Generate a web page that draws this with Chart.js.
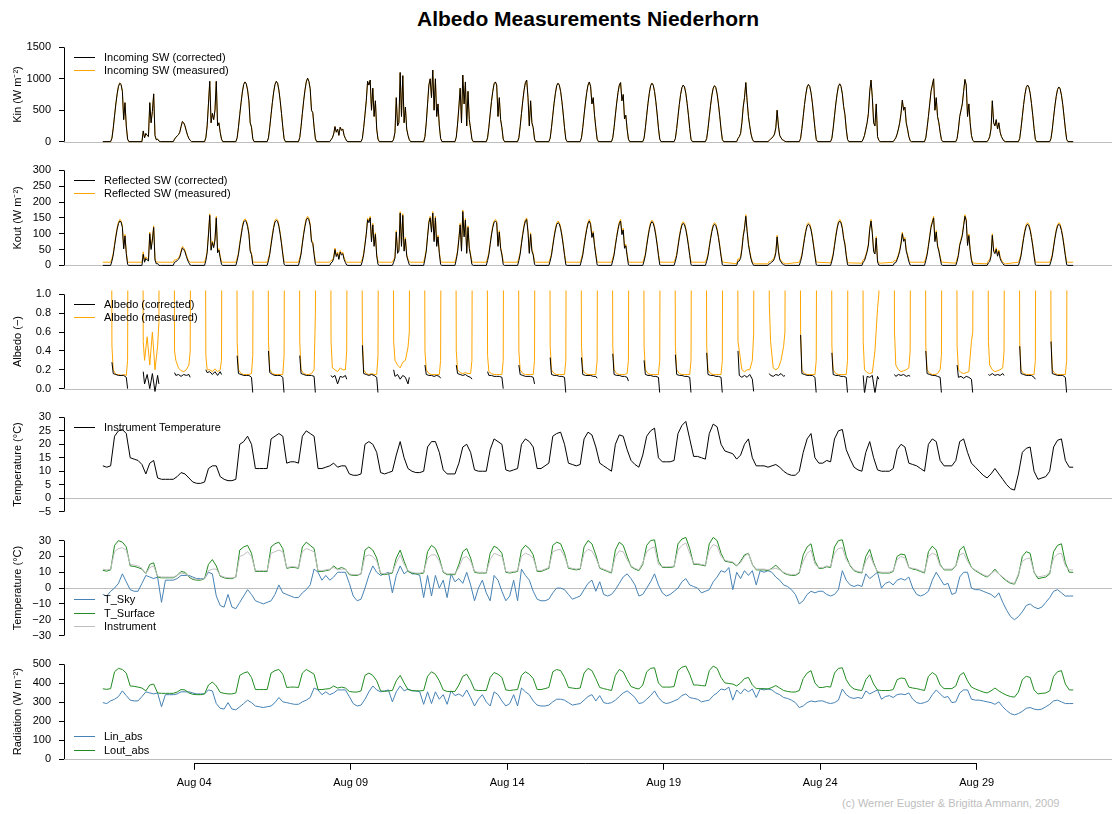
<!DOCTYPE html>
<html>
<head>
<meta charset="utf-8">
<title>Albedo Measurements Niederhorn</title>
<script src="https://cdn.jsdelivr.net/npm/chart.js@4.4.1/dist/chart.umd.min.js"></script>
<style>
  html, body { margin: 0; padding: 0; background: #fff; }
  body { position: relative; width: 1112px; height: 814px; overflow: hidden; font-family: "Liberation Sans", Arial, sans-serif; }
  canvas { position: absolute; left: 0; }
  #title { position: absolute; top: 7px; left: 588px; transform: translateX(-50%); font-size: 21px; font-weight: bold; white-space: nowrap; }
  #credit { position: absolute; top: 797px; left: 842px; font-size: 11px; color: #bebebe; white-space: nowrap; }
</style>
</head>
<body>
<div id="title">Albedo Measurements Niederhorn</div>
<div id="credit">(c) Werner Eugster &amp; Brigitta Ammann, 2009</div>
<script>
// time axis: days since 1 Aug 00:00 (UTC), 31 days of data
const DAYS = 31;
const xTickDays = [2.917, 7.917, 12.917, 17.917, 22.917, 27.917];
const xTickLabels = ['Aug 04', 'Aug 09', 'Aug 14', 'Aug 19', 'Aug 24', 'Aug 29'];

const kinTicks = [0, 500, 1000, 1500];
const koutTicks = [0, 50, 100, 150, 200, 250, 300];
const albTicks = [0, 0.2, 0.4, 0.6, 0.8, 1];
const instTicks = [-5, 0, 5, 10, 15, 20, 25, 30];
const tempTicks = [-30, -20, -10, 0, 10, 20, 30];
const radTicks = [0, 100, 200, 300, 400, 500];

// hour of day of each value in the daily shortwave rows
const swHours = [6, 7, 8, 9, 10, 11, 12, 13, 14, 15, 16, 17, 18, 19, 20];
// incoming SW, W m-2 (measured reads the same as corrected at this scale)
const kin = [
  [0,55,215,410,600,760,880,930,910,800,350,620,250,40,0],
  [0,170,60,130,100,80,620,300,480,760,100,30,40,10,0],
  [0,40,70,90,110,150,240,320,300,250,170,100,50,20,0],
  [0,60,250,600,960,300,450,350,500,960,250,300,150,40,0],
  [0,60,230,430,620,790,910,950,920,820,650,300,230,45,0],
  [0,60,230,430,620,790,910,960,930,820,650,450,230,45,0],
  [0,65,240,450,650,820,950,1010,960,840,500,460,230,45,0],
  [0,30,60,120,240,150,200,100,230,180,200,100,50,10,0],
  [0,50,220,430,650,960,900,980,500,850,400,650,200,40,0],
  [0,40,150,700,250,300,1100,400,1050,300,550,200,100,30,0],
  [0,80,300,600,900,1000,700,1140,500,1000,400,600,250,50,0],
  [0,70,280,550,850,300,1060,600,950,250,800,350,200,40,0],
  [0,60,230,440,640,800,920,950,900,400,700,350,220,40,0],
  [0,60,240,450,650,820,940,980,700,250,650,300,220,40,0],
  [0,55,220,420,610,770,890,930,900,800,640,440,220,40,0],
  [0,60,225,425,615,780,900,950,880,600,700,420,220,40,0],
  [0,60,225,425,615,780,900,940,650,750,360,420,200,40,0],
  [0,55,220,420,610,770,890,930,900,800,640,440,220,40,0],
  [0,50,210,400,590,750,860,900,870,770,610,420,210,35,0],
  [0,50,205,395,580,740,850,890,860,760,600,410,200,35,0],
  [0,50,80,130,300,550,700,940,650,400,250,120,40,5,0],
  [0,20,40,60,80,120,220,500,250,100,60,30,20,5,0],
  [0,50,210,400,590,750,870,910,880,780,620,420,210,35,0],
  [0,55,215,410,600,760,880,920,880,760,560,430,200,35,0],
  [0,40,100,200,300,450,800,980,700,300,250,600,80,20,0],
  [0,30,60,120,200,300,450,660,500,550,300,200,80,15,0],
  [0,60,220,400,600,800,900,1000,500,700,400,300,150,30,0],
  [0,50,200,400,500,600,800,990,900,400,600,300,100,20,0],
  [0,30,80,200,650,300,250,350,200,300,150,80,40,10,0],
  [0,50,210,400,590,750,860,900,870,770,610,420,210,35,0],
  [0,50,200,390,570,720,830,870,840,740,590,400,200,35,0]
];
const koutCorr = [
  [0,14,33,62,90,114,132,140,137,120,52,93,37,3,0],
  [0,35,10,22,17,14,100,50,80,120,17,5,6,0,0],
  [0,10,12,15,19,26,41,55,51,43,29,17,8,1,0],
  [0,15,40,96,158,48,72,56,80,150,40,48,24,3,0],
  [0,15,35,65,93,119,137,142,138,123,98,45,34,3,0],
  [0,15,35,65,93,119,137,142,139,123,98,68,34,3,0],
  [0,16,36,68,98,123,143,150,144,126,75,69,34,3,0],
  [0,8,11,22,50,28,37,19,42,33,37,19,9,1,0],
  [0,13,33,65,98,144,135,150,75,128,60,98,30,3,0],
  [0,10,23,105,38,45,165,60,158,45,83,30,15,2,0],
  [0,20,45,90,135,150,105,165,75,150,60,90,38,3,0],
  [0,18,42,83,128,45,170,90,143,38,120,53,30,3,0],
  [0,15,35,66,96,120,136,140,135,60,105,53,33,3,0],
  [0,15,36,68,98,123,140,145,105,38,98,45,33,3,0],
  [0,14,32,61,88,112,129,135,131,116,93,64,32,2,0],
  [0,15,33,62,89,113,132,140,129,88,103,62,32,2,0],
  [0,15,33,62,89,113,132,140,97,112,54,62,30,2,0],
  [0,14,32,62,89,113,131,138,133,118,94,65,32,2,0],
  [0,13,31,59,87,110,127,133,128,113,90,62,31,2,0],
  [0,13,30,57,84,107,124,130,126,111,88,60,29,2,0],
  [0,13,14,22,50,91,116,155,107,66,41,20,7,0,0],
  [0,5,7,11,14,22,40,90,45,18,11,5,3,0,0],
  [0,13,30,57,84,107,124,130,126,112,89,60,30,2,0],
  [0,14,33,62,91,116,134,140,134,116,85,65,30,2,0],
  [0,10,15,29,43,64,114,140,100,43,36,86,11,1,0],
  [0,8,9,18,30,45,68,100,76,83,45,30,12,1,0],
  [0,15,33,60,90,120,135,150,75,105,60,45,23,2,0],
  [0,13,31,63,78,94,125,155,141,63,94,47,16,1,0],
  [0,8,12,29,95,44,37,51,29,44,22,12,6,1,0],
  [0,13,30,58,85,108,124,130,125,111,88,61,30,2,0],
  [0,13,30,58,85,108,124,130,125,110,88,60,30,2,0]
];
const koutMeas = [
  [10,22,38,67,95,119,137,145,142,125,57,98,42,12,10],
  [10,43,15,27,22,19,105,55,85,125,22,10,11,10,10],
  [10,18,17,20,24,31,46,60,56,48,34,22,13,10,10],
  [10,23,45,101,163,53,77,61,85,155,45,53,29,12,10],
  [10,23,40,70,98,124,142,147,143,128,103,50,39,12,10],
  [10,23,40,70,98,124,142,147,144,128,103,73,39,12,10],
  [10,24,41,73,103,128,148,155,149,131,80,74,39,12,10],
  [10,16,16,27,55,33,42,24,47,38,42,24,14,10,10],
  [10,21,38,70,103,149,140,155,80,133,65,103,35,12,10],
  [10,18,28,110,43,50,170,65,163,50,88,35,20,11,10],
  [10,28,50,95,140,155,110,170,80,155,65,95,43,12,10],
  [10,26,47,88,133,50,175,95,148,43,125,58,35,12,10],
  [10,23,40,71,101,125,141,145,140,65,110,58,38,12,10],
  [10,23,41,73,103,128,145,150,110,43,103,50,38,12,10],
  [10,22,37,66,93,117,134,140,136,121,98,69,37,11,10],
  [10,23,38,67,94,118,137,145,134,93,108,67,37,11,10],
  [10,23,38,67,94,118,137,145,102,117,59,67,35,11,10],
  [10,22,37,67,94,118,136,143,138,123,99,70,37,11,10],
  [10,21,36,64,92,115,132,138,133,118,95,67,36,11,10],
  [10,21,35,62,89,112,129,135,131,116,93,65,34,11,10],
  [5,21,19,27,55,96,121,160,112,71,46,25,12,6,5],
  [5,13,12,16,19,27,45,95,50,23,16,10,8,6,5],
  [10,21,35,62,89,112,129,135,131,117,94,65,35,11,10],
  [8,22,38,67,96,121,139,145,139,121,90,70,35,10,8],
  [7,18,20,34,48,69,119,145,105,48,41,91,16,9,7],
  [10,16,14,23,35,50,73,105,81,88,50,35,17,10,10],
  [10,23,38,65,95,125,140,155,80,110,65,50,28,11,10],
  [7,21,36,68,83,99,130,160,146,68,99,52,21,9,7],
  [5,16,17,34,100,49,42,56,34,49,27,17,11,7,5],
  [10,21,35,63,90,113,129,135,130,116,93,66,35,11,10],
  [10,21,35,63,90,113,129,135,130,115,93,65,35,11,10]
];

// albedo, daytime hours only; at night the measured ratio runs off the panel
const albHours = [7, 8, 10, 12, 14, 16, 18, 19];
const albNightHours = [6, 20];
const albOffScale = 5;
const albMeas = [
  [0.45,0.2,0.15,0.15,0.14,0.15,0.14,0.3],
  [0.5,0.3,0.55,0.25,0.6,0.2,0.45,0.7],
  [0.4,0.3,0.22,0.19,0.18,0.2,0.25,0.4],
  [0.35,0.2,0.2,0.18,0.21,0.18,0.2,0.3],
  [0.5,0.2,0.16,0.15,0.15,0.15,0.16,0.35],
  [0.5,0.2,0.16,0.15,0.15,0.15,0.15,0.35],
  [0.5,0.2,0.16,0.15,0.15,0.16,0.2,0.8],
  [0.5,0.22,0.2,0.18,0.22,0.2,0.2,0.4],
  [0.55,0.2,0.16,0.15,0.16,0.15,0.15,0.35],
  [0.5,0.3,0.25,0.22,0.28,0.3,0.44,0.6],
  [0.4,0.2,0.16,0.15,0.15,0.15,0.15,0.3],
  [0.4,0.2,0.17,0.16,0.17,0.16,0.16,0.3],
  [0.35,0.18,0.16,0.15,0.15,0.15,0.15,0.3],
  [0.4,0.2,0.16,0.15,0.15,0.15,0.15,0.3],
  [0.45,0.2,0.16,0.15,0.15,0.15,0.15,0.3],
  [0.45,0.2,0.16,0.15,0.15,0.15,0.15,0.3],
  [0.45,0.2,0.16,0.15,0.15,0.15,0.16,0.3],
  [0.45,0.2,0.16,0.15,0.15,0.15,0.15,0.3],
  [0.45,0.2,0.16,0.15,0.15,0.15,0.15,0.3],
  [0.45,0.2,0.16,0.15,0.15,0.15,0.15,0.3],
  [0.5,0.4,0.2,0.18,0.2,0.2,0.3,0.58],
  [0.9,0.5,0.22,0.2,0.22,0.3,0.45,0.6],
  [0.6,0.2,0.16,0.15,0.15,0.15,0.15,0.3],
  [0.45,0.2,0.16,0.15,0.15,0.15,0.15,0.3],
  [0.5,0.2,0.17,0.16,0.17,0.4,0.85,1.0],
  [0.6,0.25,0.2,0.18,0.19,0.2,0.22,0.4],
  [0.45,0.2,0.16,0.15,0.15,0.16,0.2,0.35],
  [0.45,0.2,0.17,0.16,0.17,0.18,0.5,0.6],
  [0.5,0.25,0.2,0.18,0.19,0.2,0.22,0.4],
  [0.5,0.2,0.16,0.15,0.15,0.15,0.15,0.3],
  [0.55,0.2,0.16,0.15,0.15,0.15,0.15,0.3]
];
const albCorr = [
  [0.28,0.16,0.15,0.14,0.14,0.14,0.12,0.0],
  [0.18,0.05,0.15,0.0,0.16,-0.03,0.14,0.05],
  [0.17,0.14,0.15,0.13,0.15,0.14,0.15,0.12],
  [0.2,0.17,0.18,0.15,0.18,0.14,0.18,0.15],
  [0.35,0.16,0.15,0.14,0.14,0.14,0.12,-0.05],
  [0.4,0.17,0.15,0.14,0.14,0.14,0.12,-0.05],
  [0.35,0.16,0.15,0.14,0.14,0.14,0.13,-0.05],
  [0.14,0.12,0.14,0.05,0.13,0.12,0.14,0.1],
  [0.46,0.16,0.15,0.14,0.15,0.14,0.12,-0.05],
  [0.2,0.13,0.15,0.1,0.14,0.12,0.05,0.12],
  [0.25,0.15,0.14,0.14,0.13,0.14,0.13,0.11],
  [0.25,0.16,0.15,0.14,0.15,0.13,0.12,0.1],
  [0.18,0.14,0.14,0.13,0.13,0.13,0.12,0.0],
  [0.25,0.15,0.14,0.13,0.13,0.13,0.12,0.05],
  [0.33,0.15,0.14,0.14,0.13,0.13,0.12,-0.05],
  [0.33,0.15,0.14,0.14,0.14,0.13,0.13,0.11],
  [0.37,0.15,0.14,0.14,0.13,0.13,0.12,0.08],
  [0.3,0.15,0.14,0.14,0.13,0.13,0.12,-0.05],
  [0.36,0.15,0.14,0.14,0.13,0.13,0.12,-0.05],
  [0.38,0.15,0.14,0.14,0.13,0.13,0.12,-0.05],
  [0.4,0.14,0.12,0.14,0.12,0.15,0.1,-0.03],
  [0.16,0.14,0.13,0.15,0.14,0.16,0.13,0.14],
  [0.57,0.16,0.15,0.14,0.14,0.14,0.12,-0.05],
  [0.38,0.15,0.14,0.14,0.13,0.13,0.12,-0.05],
  [0.14,-0.05,0.13,0.12,0.14,-0.05,0.13,0.1],
  [0.15,0.13,0.15,0.14,0.15,0.13,0.14,0.13],
  [0.4,0.16,0.15,0.14,0.14,0.13,0.12,-0.05],
  [0.25,0.12,0.13,0.11,0.13,0.12,0.1,-0.05],
  [0.15,0.14,0.16,0.14,0.15,0.14,0.16,0.14],
  [0.45,0.16,0.15,0.14,0.14,0.14,0.12,0.1],
  [0.5,0.16,0.15,0.14,0.14,0.14,0.12,-0.05]
];

// 3-hourly series (00,03,...,21 h each day, last value at 1 Sep 00:00)
const instTemp = [
  12,11.5,12,23,25,25.5,24,15,  14.5,14,12.5,9,13,14,7.5,7,  7,7,7,8,9.5,9,7.5,6,
  5.5,5.5,6,11,12,12,8,7,  6.5,6.5,7,20,21,23,20,11,  11,11,11,22,23,24,23,13,
  13.5,13.5,13,23,25,24,23,11,  11,11.5,12,13,11.5,12,12,9,  8.5,8.5,9,20,21,20,17,9.5,
  9,9.5,10,16,21,15,11,10,  9.5,9.5,10,19,21,21,17,10.5,  9,9,9,13,19,20,17,10.5,
  10,10,10,18,22,21,20,10.5,  10,10.5,11,20,22,21,19,11,  11,12,13,23,24,24.5,20,13,
  12.5,12,12.5,22,24.5,23.5,19,13,  12,11,10,20,23.5,23,18,14,  12.5,11.5,16,23,25,26,15,13.5,
  13.5,13.5,14,24,27,28.5,22,15.5,  15.5,15,14.5,24,27.5,26.5,20,17.5,  17,16.5,14.5,16,20,22,15,12,
  12,12,11.5,12,12.5,11.5,10,9,  8.5,8.5,10,17,22,24,15,13,  13,14,13.5,22,25,25.5,18,14.5,
  11.5,10.5,10,17,21,15,10.5,10,  10,10,11,18,20,19,13,12.5,  12,11,10,20,22,21,14,12,
  12,12,14,21,22,17,13,11.5,  10,8.5,7.5,9,11,9,7,5,  3.5,3,9,17,18.5,19,10,7,
  7.5,8,10,19,21.5,22,14,11.5,  11.5
];
const tSurface = [
  11.2,10.7,11.5,27,30,29,26,14,  13.7,13,12,9,15,16,7,6.5,  6.5,6.5,6.5,8,10.5,10,7,5.5,
  5,5,6,15,18,14,7.5,6.5,  6,6,7,24,26,27,22,10.5,  10.5,10.5,10.5,26,28,29,25,12.5,
  13,13,12.5,26,29,27,25,10.5,  10.5,11,11.5,14,12,13,12,8.5,  8,8,9,24,26,24,19,9,
  8.5,9,9.5,19,24,17,10.5,9.5,  9,9,9.5,23,27,25,19,10,  8.5,8.5,8.5,15,23,25,19,10,
  9.5,9.5,9.5,22,26.5,25,22,10,  9.5,10,10.5,24,27,25,21,10.5,  10.5,11.5,12.5,27,29,28,22,12.5,
  12,11.5,12,26,30,28,21,12.5,  11.5,10.5,9.5,24,29,27,20,13.5,  12,11,15,27,30,30.5,17,13,
  13,13,13.5,28,31,32,25,15,  15,14.5,14,28,32,30,22,17,  16.5,16,14,17,21,22,15,11.5,
  11.5,11.5,11,12.5,14.5,12,9.5,8.5,  8,8,9.5,21,26,28,17,12.5,  12.5,13.5,13,26,30,30.5,20,14,
  11,10,9.5,20,24.5,16,10,9.5,  9.5,9.5,10.5,20,21.5,21,13,12,  11.5,10.5,9.5,23,26.5,24,15,11.5,
  11.5,11.5,14,24,26.5,19,13,11,  9.5,8,7,9,12,9,6.5,4.5,  3,2.5,8,20,23,22,10,6,
  6.5,7,9,23,27,28,16,10,  10
];
const tSky = [
  -4,-5,-2,0,3,9,4,-1,  -2,-2,3,8,7,6,7,-9,  5,5,5,6,8,8,8,7,
  6,6,6,10,9,-5,-11,-12,  -4,-12,-13,-9,-5,-1,-4,-8,  -9,-10,-9,-8,-4,2,-3,-4,
  -5,-6,-6,-3,-1,2,12,10,  5,8,5,7,10,10,10,3,  -5,-8,-7,0,8,14,10,8,
  9,10,-3,8,14,9,11,9,  9,8,-6,8,-5,8,0,5,  -6,9,4,6,3,10,2,-8,
  0,5,-3,-8,8,5,-2,-8,  -5,5,-8,12,8,5,-2,-7,  -8,-8,-7,-3,0,0,-1,-4,
  -7,-6,-5,-1,3,5,-2,4,  -4,-5,-4,-1,3,7,9,6,  2,-5,-4,0,4,9,2,-3,
  -5,-4,-2,0,4,6,2,1,  0,-3,-2,-1,4,7,11,10,  13,-1,10,6,11,8,11,2,
  11,10,11,10,7,5,2,1,  -1,-4,-10,-8,-4,-2,-3,-2,  -2,-4,-5,-4,-1,11,5,2,
  1,2,1,9,6,8,10,0,  3,4,2,5,6,5,7,0,  -4,-5,-4,-2,5,10,6,2,
  3,-4,-3,7,10,10,0,-1,  -1,-2,-3,-4,-6,-3,-9,-14,  -18,-20,-18,-15,-11,-10,-12,-13,
  -12,-9,-6,-2,-1,-3,-5,-5,  -5
];
const linAbs = [
  298,293,307,316,330,360,335,311,  307,307,330,355,349,344,349,276,  340,340,340,344,355,355,355,349,
  344,344,344,365,360,293,268,264,  298,264,260,276,293,311,298,280,  276,272,276,280,298,325,302,298,
  293,289,289,302,311,325,375,365,  340,355,340,349,365,365,365,330,  293,280,285,316,355,386,365,355,
  360,365,302,355,386,360,370,360,  360,355,289,355,293,355,316,340,  289,360,335,344,330,365,325,280,
  316,340,302,280,355,340,307,280,  293,340,280,375,355,340,307,285,  280,280,285,302,316,316,311,298,
  285,289,293,311,330,340,307,335,  298,293,298,311,330,349,360,344,  325,293,298,316,335,360,325,302,
  293,298,307,316,335,344,325,320,  316,302,307,311,335,349,370,365,  380,311,365,344,370,355,370,325,
  370,365,370,365,349,340,325,320,  311,298,272,280,298,307,302,307,  307,298,293,298,311,370,340,325,
  320,325,320,360,344,355,365,316,  330,335,325,340,344,340,349,316,  298,293,298,307,340,365,344,325,
  330,298,302,349,365,365,316,311,  311,307,302,298,289,302,276,256,  240,233,240,252,268,272,264,260,
  264,276,289,307,311,302,293,293,  293
];
const loutAbs = [
  371,368,372,461,479,473,454,386,  384,380,375,360,391,396,349,347,  347,347,347,354,367,365,349,342,
  340,340,344,391,407,386,352,347,  344,344,349,442,454,461,431,367,  367,367,367,454,467,473,448,378,
  380,380,378,454,473,461,448,367,  367,370,372,386,375,380,375,357,  354,354,360,442,454,442,413,360,
  357,360,362,413,442,402,367,362,  360,360,362,437,461,448,413,365,  357,357,357,391,437,448,413,365,
  362,362,362,431,457,448,431,365,  362,365,367,442,461,448,425,367,  367,372,378,461,473,467,431,378,
  375,372,375,454,479,467,425,378,  372,367,362,442,473,461,419,383,  375,370,391,461,479,482,402,380,
  380,380,383,467,485,491,448,391,  391,388,386,467,491,479,431,402,  399,396,386,402,425,431,391,372,
  372,372,370,378,388,375,362,357,  354,354,362,425,454,467,402,378,  378,383,380,454,479,482,419,386,
  370,365,362,419,445,396,365,362,  362,362,367,419,428,425,380,375,  372,367,362,437,457,442,391,372,
  372,372,386,442,457,413,380,370,  362,354,349,360,375,360,347,337,  330,327,354,419,437,431,365,344,
  347,349,360,437,461,467,396,365,  365
];

// ---------- layout ----------
Chart.defaults.font.family = '"Liberation Sans", Arial, Helvetica, sans-serif';
Chart.defaults.font.size = 11;
Chart.defaults.color = '#000';

const W = 1112, LEFT = 64, PAD = 14, XAXIS_H = 44;
const tickTop = [47, 170.4, 293.8, 417.2, 540.6, 664];   // pixel of the highest tick in each panel
const TICK_SPAN = 95, EXT = 0.04;
const REGION_H = TICK_SPAN * (1 + 2 * EXT);

const BLACK = '#000000', ORANGE = '#FFA500', BLUE = '#4682B4', GREEN = '#228B22', GRAY = '#BEBEBE';

function swSeries(rows) {
  const pts = [{x: 0, y: rows[0][0]}];
  rows.forEach((row, d) => row.forEach((v, j) => pts.push({x: d + swHours[j] / 24, y: v})));
  pts.push({x: DAYS, y: rows[rows.length - 1][swHours.length - 1]});
  return pts;
}
function albedoSeries(rows, night) {
  const pts = [];
  rows.forEach((row, d) => {
    pts.push({x: d + albNightHours[0] / 24, y: night});
    row.forEach((v, j) => pts.push({x: d + albHours[j] / 24, y: v}));
    pts.push({x: d + albNightHours[1] / 24, y: night});
  });
  return pts;
}
const threeHourly = vals => vals.map((v, i) => ({x: i / 8, y: v}));

function line(label, data, color) {
  return {label, data, borderColor: color, borderWidth: 1, pointRadius: 0, tension: 0, fill: false};
}
const plain = v => (v < 0 ? '\u2212' + Math.abs(v) : String(v));

const panels = [
  {title: 'Kin (W m\u207B\u00B2)', ticks: kinTicks, fmt: plain, at: 'top',
   legend: [['Incoming SW (corrected)', BLACK], ['Incoming SW (measured)', ORANGE]],
   sets: [line('Incoming SW (corrected)', swSeries(kin), BLACK),
          line('Incoming SW (measured)', swSeries(kin), ORANGE)]},
  {title: 'Kout (W m\u207B\u00B2)', ticks: koutTicks, fmt: plain, at: 'top',
   legend: [['Reflected SW (corrected)', BLACK], ['Reflected SW (measured)', ORANGE]],
   sets: [line('Reflected SW (corrected)', swSeries(koutCorr), BLACK),
          line('Reflected SW (measured)', swSeries(koutMeas), ORANGE)]},
  {title: 'Albedo (\u2212)', ticks: albTicks, fmt: v => v.toFixed(1), at: 'top',
   legend: [['Albedo (corrected)', BLACK], ['Albedo (measured)', ORANGE]],
   sets: [line('Albedo (corrected)', albedoSeries(albCorr, null), BLACK),
          line('Albedo (measured)', albedoSeries(albMeas, albOffScale), ORANGE)]},
  {title: 'Temperature (\u00B0C)', ticks: instTicks, fmt: plain, at: 'top',
   legend: [['Instrument Temperature', BLACK]],
   sets: [line('Instrument Temperature', threeHourly(instTemp), BLACK)]},
  {title: 'Temperature (\u00B0C)', ticks: tempTicks, fmt: plain, at: 'bottom',
   legend: [['T_Sky', BLUE], ['T_Surface', GREEN], ['Instrument', GRAY]],
   sets: [line('Instrument', threeHourly(instTemp), GRAY),
          line('T_Surface', threeHourly(tSurface), GREEN),
          line('T_Sky', threeHourly(tSky), BLUE)]},
  {title: 'Radiation (W m\u207B\u00B2)', ticks: radTicks, fmt: plain, at: 'bottom',
   legend: [['Lin_abs', BLUE], ['Lout_abs', GREEN]],
   sets: [line('Lout_abs', threeHourly(loutAbs), GREEN),
          line('Lin_abs', threeHourly(linAbs), BLUE)]}
];

// R-like axes: zero line, axis lines between outer ticks, inset legend
const rStyle = {
  id: 'rStyle',
  beforeDatasetsDraw(chart) {
    const {ctx, chartArea: a, scales: {y}} = chart;
    const yz = Math.round(y.getPixelForValue(0)) + 0.5;
    ctx.save();
    ctx.strokeStyle = GRAY;
    ctx.lineWidth = 1;
    ctx.beginPath(); ctx.moveTo(a.left, yz); ctx.lineTo(a.right, yz); ctx.stroke();
    ctx.restore();
  },
  afterDatasetsDraw(chart, args, opts) {
    const {ctx, chartArea: a, scales: {x, y}} = chart;
    ctx.save();
    ctx.lineWidth = 1;
    ctx.strokeStyle = BLACK;
    const yt = y.ticks;
    const ax = Math.round(a.left) + 0.5;
    ctx.beginPath();
    ctx.moveTo(ax, y.getPixelForValue(yt[0].value));
    ctx.lineTo(ax, y.getPixelForValue(yt[yt.length - 1].value));
    ctx.stroke();
    if (x.options.display) {
      const ay = Math.round(a.bottom) + 0.5;
      const xt = x.ticks;
      ctx.beginPath();
      ctx.moveTo(x.getPixelForValue(xt[0].value), ay);
      ctx.lineTo(x.getPixelForValue(xt[xt.length - 1].value), ay);
      ctx.stroke();
    }
    const rows = opts.items || [];
    const step = 13.8;
    const first = opts.at === 'top' ? a.top + 13 : a.bottom - 13 - (rows.length - 1) * step;
    ctx.font = '11px "Liberation Sans", Arial, sans-serif';
    ctx.textBaseline = 'middle';
    rows.forEach(([text, color], i) => {
      const ly = Math.round(first + i * step) + 0.5;
      ctx.strokeStyle = color;
      ctx.beginPath(); ctx.moveTo(74, ly); ctx.lineTo(95, ly); ctx.stroke();
      ctx.fillStyle = BLACK;
      ctx.fillText(text, 104, ly);
    });
    ctx.restore();
  }
};

panels.forEach((p, i) => {
  const last = i === panels.length - 1;
  const xAxisH = last ? XAXIS_H : 0;
  const regionTop = tickTop[i] - TICK_SPAN * EXT;
  const top = Math.floor(regionTop) - PAD;
  const padTop = regionTop - top;
  const h = Math.ceil(padTop + REGION_H + xAxisH + PAD);
  const padBottom = h - padTop - REGION_H - xAxisH;
  const cv = document.createElement('canvas');
  cv.width = W; cv.height = h; cv.style.top = top + 'px';
  document.body.appendChild(cv);

  const lo = p.ticks[0], hi = p.ticks[p.ticks.length - 1];
  const ext = (hi - lo) * EXT;

  new Chart(cv, {
    type: 'line',
    data: {datasets: p.sets},
    options: {
      responsive: false,
      animation: false,
      events: [],
      layout: {padding: {top: padTop, bottom: padBottom, left: 0, right: 0}},
      plugins: {
        legend: {display: false},
        tooltip: {enabled: false},
        rStyle: {items: p.legend, at: p.at}
      },
      scales: {
        x: {
          type: 'linear', min: -DAYS * EXT, max: DAYS * (1 + EXT), display: last,
          afterBuildTicks: s => { s.ticks = xTickDays.map(v => ({value: v})); },
          afterFit: s => { s.height = xAxisH; },
          grid: {drawOnChartArea: false, drawTicks: true, tickLength: 7, color: BLACK},
          border: {display: false},
          ticks: {autoSkip: false, maxRotation: 0, padding: 7, callback: (v, k) => xTickLabels[k]}
        },
        y: {
          type: 'linear', min: lo - ext, max: hi + ext,
          afterBuildTicks: s => { s.ticks = p.ticks.map(v => ({value: v})); },
          afterFit: s => { s.width = LEFT; },
          grid: {drawOnChartArea: false, drawTicks: true, tickLength: 5, color: BLACK},
          border: {display: false},
          ticks: {autoSkip: false, padding: 8, callback: p.fmt},
          title: {display: true, text: p.title, padding: {top: 11, bottom: 0}}
        }
      }
    },
    plugins: [rStyle]
  });
});
</script>
</body>
</html>
